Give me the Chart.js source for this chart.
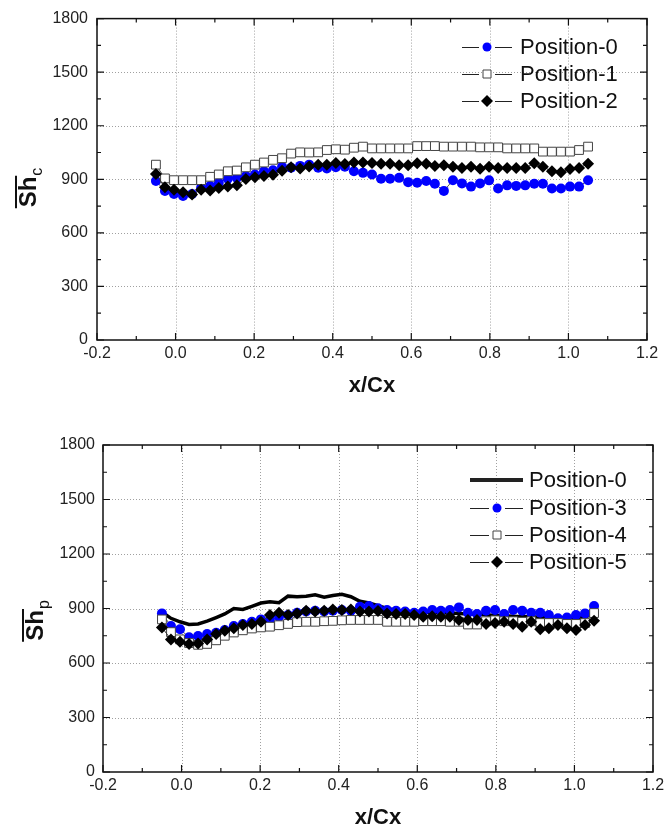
<!DOCTYPE html>
<html>
<head>
<meta charset="utf-8">
<script src="https://cdn.jsdelivr.net/npm/chart.js@4"></script>
<style>
  body { margin: 0; background: #fff; }
  #wrap { position: relative; width: 669px; height: 830px; }
  canvas { position: absolute; left: 0; }
</style>
</head>
<body>
<div id="wrap">
  <canvas id="chartC" width="669" height="415" style="top:0"></canvas>
  <canvas id="chartP" width="669" height="415" style="top:415px"></canvas>
</div>
<script>
// x/Cx positions of the measurement points
const xPos = [-0.050, -0.027, -0.004, 0.019, 0.042, 0.065, 0.088, 0.110, 0.133, 0.156,
  0.179, 0.202, 0.225, 0.248, 0.271, 0.294, 0.317, 0.340, 0.363, 0.385,
  0.408, 0.431, 0.454, 0.477, 0.500, 0.523, 0.546, 0.569, 0.592, 0.615,
  0.638, 0.660, 0.683, 0.706, 0.729, 0.752, 0.775, 0.798, 0.821, 0.844,
  0.867, 0.890, 0.913, 0.935, 0.958, 0.981, 1.004, 1.027, 1.050];

// top chart: Sh_c
const shcPos0 = [890, 835, 818, 807, 818, 853, 862, 881, 903, 908, 918, 927, 945, 950, 970, 965, 975, 982, 965, 960,
  967, 970, 945, 936, 927, 903, 903, 908, 884, 881, 890, 875, 835, 895, 877, 859, 877, 894, 848, 866,
  863, 866, 875, 875, 848, 848, 859, 859, 895];
const shcPos1 = [982, 905, 895, 895, 895, 895, 914, 927, 945, 949, 967, 982, 994, 1009, 1018, 1044, 1051, 1050, 1051, 1064,
  1068, 1066, 1077, 1083, 1073, 1073, 1073, 1073, 1073, 1086, 1086, 1086, 1083, 1083, 1083, 1083, 1079, 1079, 1079, 1073,
  1073, 1073, 1073, 1055, 1055, 1055, 1055, 1064, 1083];
const shcPos2 = [930, 855, 842, 828, 815, 842, 837, 851, 860, 867, 901, 911, 918, 925, 948, 968, 960, 972, 982, 982,
  991, 985, 994, 994, 991, 987, 987, 978, 978, 990, 987, 975, 978, 970, 963, 970, 959, 970, 963, 963,
  963, 963, 990, 970, 945, 939, 957, 963, 987];

// bottom chart: Sh_p
const shpPos0 = [881, 846, 827, 812, 815, 830, 850, 870, 900, 895, 912, 930, 937, 932, 968, 965, 968, 975, 962, 972,
  978, 965, 940, 930, 915, 900, 890, 885, 880, 880, 878, 875, 875, 872, 870, 868, 865, 862, 860, 858,
  855, 855, 852, 850, 850, 848, 850, 855, 870];
const shpPos3 = [873, 804, 786, 742, 749, 760, 767, 782, 804, 815, 827, 840, 837, 855, 864, 877, 883, 888, 883, 888,
  892, 888, 910, 914, 901, 892, 888, 883, 877, 883, 892, 888, 892, 906, 877, 870, 888, 892, 870, 892,
  888, 877, 877, 864, 846, 850, 864, 873, 914];
const shpPos4 = [840, 770, 730, 710, 700, 705, 725, 750, 768, 780, 790, 796, 800, 808, 815, 825, 827, 827, 830, 832,
  835, 837, 837, 837, 837, 827, 827, 827, 827, 830, 830, 830, 827, 827, 812, 812, 830, 835, 830, 830,
  827, 830, 820, 820, 820, 815, 815, 820, 875];
const shpPos5 = [796, 730, 717, 705, 708, 730, 760, 777, 791, 809, 815, 827, 864, 877, 864, 873, 888, 883, 888, 895,
  892, 895, 883, 883, 886, 873, 870, 870, 864, 855, 858, 855, 855, 837, 837, 837, 815, 820, 827, 815,
  800, 827, 786, 791, 809, 791, 782, 809, 833];

// axis ticks
const xTicks = [-0.2, 0.0, 0.2, 0.4, 0.6, 0.8, 1.0, 1.2];
const yTicks = [0, 300, 600, 900, 1200, 1500, 1800];

const FONT = '"Liberation Sans", Arial, sans-serif';

function pts(vals) {
  return xPos.map((x, i) => ({ x: x, y: vals[i] }));
}

function marker(ctx, style, x, y) {
  ctx.save();
  ctx.lineWidth = 1;
  ctx.beginPath();
  if (style === 'circle') {
    ctx.fillStyle = '#0000ff';
    ctx.arc(x, y, 4.5, 0, Math.PI * 2);
    ctx.fill();
  } else if (style === 'rect') {
    ctx.fillStyle = '#fff';
    ctx.strokeStyle = '#444';
    ctx.rect(x - 4, y - 4, 8, 8);
    ctx.fill();
    ctx.stroke();
  } else if (style === 'rectRot') {
    ctx.fillStyle = '#000';
    ctx.moveTo(x, y - 6);
    ctx.lineTo(x + 6, y);
    ctx.lineTo(x, y + 6);
    ctx.lineTo(x - 6, y);
    ctx.closePath();
    ctx.fill();
  }
  ctx.restore();
}

function makePlugin(cfg) {
  return {
    id: 'frame',
    beforeDatasetsDraw(chart) {
      const { ctx, chartArea: a, scales: { x, y } } = chart;
      ctx.save();
      ctx.strokeStyle = '#a0a0a0';
      ctx.lineWidth = 1;
      ctx.setLineDash([1, 2]);
      xTicks.slice(1, -1).forEach(v => {
        const px = Math.round(x.getPixelForValue(v)) + 0.5;
        ctx.beginPath(); ctx.moveTo(px, a.top); ctx.lineTo(px, a.bottom); ctx.stroke();
      });
      yTicks.slice(1, -1).forEach(v => {
        const py = Math.round(y.getPixelForValue(v)) + 0.5;
        ctx.beginPath(); ctx.moveTo(a.left, py); ctx.lineTo(a.right, py); ctx.stroke();
      });
      ctx.restore();
    },
    afterDraw(chart) {
      const { ctx, chartArea: a, scales: { x, y } } = chart;
      ctx.save();
      ctx.strokeStyle = '#111';
      ctx.lineWidth = 1.5;
      ctx.strokeRect(a.left, a.top, a.right - a.left, a.bottom - a.top);

      // inward ticks, major and minor, on all four sides
      ctx.lineWidth = 1.2;
      const xt = [], yt = [];
      xTicks.forEach((v, i) => {
        xt.push([v, 7]);
        if (i < xTicks.length - 1) xt.push([(v + xTicks[i + 1]) / 2, 4]);
      });
      yTicks.forEach((v, i) => {
        yt.push([v, 7]);
        if (i < yTicks.length - 1) yt.push([(v + yTicks[i + 1]) / 2, 4]);
      });
      xt.forEach(([v, len]) => {
        const px = x.getPixelForValue(v);
        ctx.beginPath();
        ctx.moveTo(px, a.bottom); ctx.lineTo(px, a.bottom - len);
        ctx.moveTo(px, a.top); ctx.lineTo(px, a.top + len);
        ctx.stroke();
      });
      yt.forEach(([v, len]) => {
        const py = y.getPixelForValue(v);
        ctx.beginPath();
        ctx.moveTo(a.left, py); ctx.lineTo(a.left + len, py);
        ctx.moveTo(a.right, py); ctx.lineTo(a.right - len, py);
        ctx.stroke();
      });

      // x axis title
      ctx.fillStyle = '#111';
      ctx.font = 'bold 22px ' + FONT;
      ctx.textAlign = 'center';
      ctx.textBaseline = 'middle';
      ctx.fillText('x/Cx', (a.left + a.right) / 2, cfg.xTitleY);

      // y axis title: overlined Sh with subscript
      ctx.save();
      ctx.translate(cfg.yTitleX, cfg.yTitleY);
      ctx.rotate(-Math.PI / 2);
      ctx.textAlign = 'left';
      ctx.textBaseline = 'alphabetic';
      ctx.font = 'bold 24px ' + FONT;
      const wMain = ctx.measureText('Sh').width;
      ctx.font = '16px ' + FONT;
      const wSub = ctx.measureText(cfg.sub).width;
      const u0 = -(wMain + wSub) / 2;
      ctx.font = 'bold 24px ' + FONT;
      ctx.fillText('Sh', u0, 0);
      ctx.font = '16px ' + FONT;
      ctx.fillText(cfg.sub, u0 + wMain + 1, 6);
      ctx.lineWidth = 2;
      ctx.beginPath();
      ctx.moveTo(u0 - 1, -20);
      ctx.lineTo(u0 + wMain + 1, -20);
      ctx.stroke();
      ctx.restore();

      // legend
      ctx.font = '22px ' + FONT;
      ctx.textAlign = 'left';
      ctx.textBaseline = 'middle';
      const L = cfg.legend;
      L.items.forEach((it, i) => {
        const ry = L.rows[i];
        ctx.strokeStyle = '#222';
        if (it.style === 'line') {
          ctx.lineWidth = 4;
          ctx.beginPath(); ctx.moveTo(L.x0, ry); ctx.lineTo(L.x1, ry); ctx.stroke();
        } else {
          ctx.lineWidth = 1;
          ctx.beginPath();
          ctx.moveTo(L.x0, ry + 0.5); ctx.lineTo(L.mx - 8, ry + 0.5);
          ctx.moveTo(L.mx + 8, ry + 0.5); ctx.lineTo(L.x1, ry + 0.5);
          ctx.stroke();
          marker(ctx, it.style, L.mx, ry);
        }
        ctx.fillStyle = '#111';
        ctx.fillText(it.label, L.tx, ry + 1);
      });
      ctx.restore();
    }
  };
}

function circleSet(label, vals, order) {
  return { label, data: pts(vals), order, showLine: true, borderColor: '#555', borderWidth: 1,
    pointStyle: 'circle', pointRadius: 5, pointBackgroundColor: '#0000ff', pointBorderColor: '#0000ff', pointBorderWidth: 0 };
}
function squareSet(label, vals, order) {
  return { label, data: pts(vals), order, showLine: true, borderColor: '#555', borderWidth: 1,
    pointStyle: 'rect', pointRadius: 6.2, pointBackgroundColor: '#fff', pointBorderColor: '#444', pointBorderWidth: 1 };
}
function diamondSet(label, vals, order) {
  return { label, data: pts(vals), order, showLine: true, borderColor: '#333', borderWidth: 1,
    pointStyle: 'rectRot', pointRadius: 6, pointBackgroundColor: '#000', pointBorderColor: '#000', pointBorderWidth: 0 };
}

function makeChart(id, datasets, box, cfg) {
  return new Chart(document.getElementById(id), {
    type: 'scatter',
    data: { datasets },
    options: {
      responsive: false,
      devicePixelRatio: 1,
      animation: false,
      events: [],
      layout: { padding: { top: box.top, right: box.right, left: 0, bottom: 0 } },
      plugins: { legend: { display: false }, tooltip: { enabled: false } },
      scales: {
        x: {
          type: 'linear', min: -0.2, max: 1.2,
          afterBuildTicks: s => { s.ticks = xTicks.map(v => ({ value: v })); },
          afterFit: s => { s.height = box.xh; },
          grid: { display: false, drawTicks: false },
          border: { display: false },
          ticks: { autoSkip: false, maxRotation: 0, padding: box.xpad, color: '#222',
            font: { family: FONT, size: 16 }, callback: v => v.toFixed(1) }
        },
        y: {
          type: 'linear', min: 0, max: 1800,
          afterBuildTicks: s => { s.ticks = yTicks.map(v => ({ value: v })); },
          afterFit: s => { s.width = box.yw; },
          grid: { display: false, drawTicks: false },
          border: { display: false },
          ticks: { padding: box.ypad, color: '#222',
            font: { family: FONT, size: 16 }, callback: v => String(v) }
        }
      }
    },
    plugins: [makePlugin(cfg)]
  });
}

makeChart('chartC', [
  circleSet('Position-0', shcPos0, 3),
  squareSet('Position-1', shcPos1, 2),
  diamondSet('Position-2', shcPos2, 1)
], { top: 13, right: 22, xh: 75, yw: 97, xpad: 4, ypad: 9 }, {
  xTitleY: 386, yTitleX: 36, yTitleY: 188, sub: 'c',
  legend: { x0: 462, x1: 512, mx: 487, tx: 520, rows: [47, 74, 101],
    items: [{ label: 'Position-0', style: 'circle' }, { label: 'Position-1', style: 'rect' }, { label: 'Position-2', style: 'rectRot' }] }
});

makeChart('chartP', [
  { label: 'Position-0', data: pts(shpPos0), order: 4, showLine: true, borderColor: '#000', borderWidth: 3.5, pointRadius: 0 },
  circleSet('Position-3', shpPos3, 3),
  squareSet('Position-4', shpPos4, 2),
  diamondSet('Position-5', shpPos5, 1)
], { top: 30, right: 16, xh: 58, yw: 103, xpad: 4, ypad: 8 }, {
  xTitleY: 403, yTitleX: 43, yTitleY: 206, sub: 'p',
  legend: { x0: 470, x1: 523, mx: 497, tx: 529, rows: [65, 93, 120, 147],
    items: [{ label: 'Position-0', style: 'line' }, { label: 'Position-3', style: 'circle' }, { label: 'Position-4', style: 'rect' }, { label: 'Position-5', style: 'rectRot' }] }
});
</script>
</body>
</html>
